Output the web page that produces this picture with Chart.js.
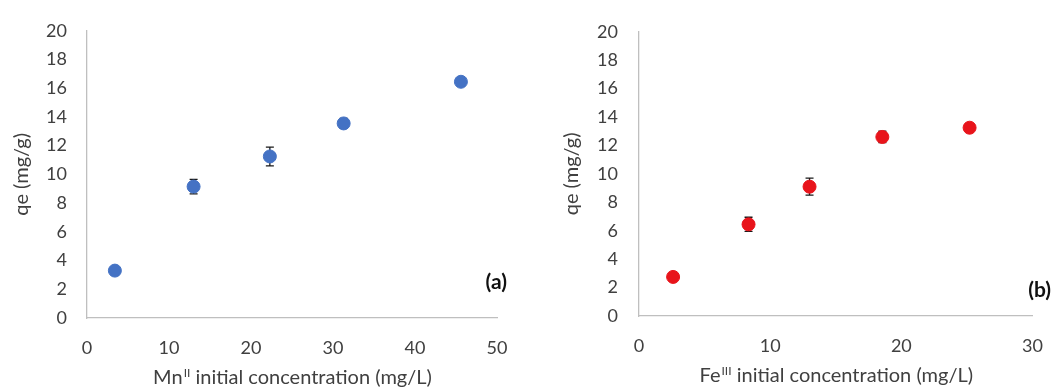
<!DOCTYPE html>
<html>
<head>
<meta charset="utf-8">
<script src="https://cdn.jsdelivr.net/npm/chart.js@4.4.1/dist/chart.umd.min.js"></script>
<style>
  html, body { margin: 0; padding: 0; background: #fff; }
  #wrap { position: relative; width: 1062px; height: 387px; }
  #chartA { position: absolute; left: 0; top: 0; }
  #chartB { position: absolute; left: 530px; top: 0; }
</style>
</head>
<body>
<div id="wrap">
  <canvas id="chartA" width="530" height="387"></canvas>
  <canvas id="chartB" width="532" height="387"></canvas>
</div>
<script>
// panel (a): Mn(II)
const mnConc = [3.4, 13.0, 22.3, 31.3, 45.6];
const mnQe = [3.3, 9.15, 11.25, 13.55, 16.45];
const mnErr = [0.15, 0.5, 0.65, 0.35, 0.2];

// panel (b): Fe(III)
const feConc = [2.6, 8.35, 13.0, 18.55, 25.2];
const feQe = [2.75, 6.45, 9.1, 12.6, 13.25];
const feErr = [0.2, 0.5, 0.6, 0.4, 0.1];

const yTicks = [0, 2, 4, 6, 8, 10, 12, 14, 16, 18, 20];
const xTicksA = [0, 10, 20, 30, 40, 50];
const xTicksB = [0, 10, 20, 30];

const FONT = "Lato, 'Open Sans', sans-serif";
const TEXT = "#404040";
const AXIS = "#bfbfbf";

// vertical error bars drawn from the y scale
const errorBars = {
  id: "errorBars",
  beforeDatasetsDraw(chart, args, opts) {
    const ctx = chart.ctx;
    const xs = chart.scales.x, ys = chart.scales.y;
    const ds = chart.data.datasets[0];
    ctx.save();
    ctx.strokeStyle = "#1a1a1a";
    ctx.lineWidth = 1.3;
    ds.data.forEach((p, i) => {
      const e = opts.err[i];
      const px = xs.getPixelForValue(p.x);
      const top = ys.getPixelForValue(p.y + e);
      const bot = ys.getPixelForValue(p.y - e);
      ctx.beginPath();
      ctx.moveTo(px, top); ctx.lineTo(px, bot);
      ctx.moveTo(px - 4, top); ctx.lineTo(px + 4, top);
      ctx.moveTo(px - 4, bot); ctx.lineTo(px + 4, bot);
      ctx.stroke();
    });
    ctx.restore();
  }
};

// x title with superscript + panel tag
const decorations = {
  id: "decorations",
  afterDraw(chart, args, opts) {
    const ctx = chart.ctx;
    const area = chart.chartArea;
    ctx.save();
    ctx.fillStyle = TEXT;
    ctx.textBaseline = "alphabetic";
    const big = "20px " + FONT, small = "12px " + FONT;
    ctx.font = big;
    const w1 = ctx.measureText(opts.base).width;
    const w3 = ctx.measureText(opts.rest).width;
    ctx.font = small;
    const w2 = ctx.measureText(opts.sup).width;
    const total = w1 + w2 + w3;
    let x = (area.left + area.right) / 2 - total / 2;
    const y = opts.titleY;
    ctx.textAlign = "left";
    ctx.font = big;
    ctx.fillText(opts.base, x, y);
    x += w1 + 1;
    ctx.font = small;
    ctx.fillText(opts.sup, x, y - 7);
    x += w2;
    ctx.font = big;
    ctx.fillText(opts.rest, x, y);

    ctx.font = "bold 21px " + FONT;
    ctx.fillStyle = "#111";
    ctx.textAlign = "right";
    ctx.textBaseline = "middle";
    ctx.fillText(opts.tag, opts.tagX, opts.tagY);
    ctx.restore();
  }
};

function makeChart(id, xs, ys, err, color, xTicks, xMax, layout, deco) {
  const ctx = document.getElementById(id).getContext("2d");
  return new Chart(ctx, {
    type: "scatter",
    data: {
      datasets: [{
        data: xs.map((v, i) => ({ x: v, y: ys[i] })),
        backgroundColor: color,
        borderColor: color,
        pointRadius: 6.5,
        pointHoverRadius: 6.5,
        showLine: false
      }]
    },
    options: {
      responsive: false,
      animation: false,
      layout: { padding: { top: layout.top, right: layout.right, left: 0, bottom: 0 } },
      plugins: {
        legend: { display: false },
        tooltip: { enabled: false },
        errorBars: { err: err },
        decorations: deco
      },
      scales: {
        x: {
          type: "linear",
          min: 0,
          max: xMax,
          afterFit: s => { s.height = layout.xh; },
          afterBuildTicks: s => { s.ticks = xTicks.map(v => ({ value: v })); },
          grid: { display: false, drawTicks: false },
          border: { display: true, color: AXIS, width: 1.3 },
          ticks: { color: TEXT, font: { family: FONT, size: 18 }, padding: layout.xpad, maxRotation: 0 }
        },
        y: {
          min: 0,
          max: 20,
          afterFit: s => { s.width = layout.yw; },
          afterBuildTicks: s => { s.ticks = yTicks.map(v => ({ value: v })); },
          grid: { display: false, drawTicks: false },
          border: { display: true, color: AXIS, width: 1.3 },
          ticks: { color: TEXT, font: { family: FONT, size: 18 }, padding: layout.ypad },
          title: {
            display: true,
            text: "qe (mg/g)",
            color: TEXT,
            font: { family: FONT, size: 20 },
            padding: { top: layout.ytitle, bottom: 0 }
          }
        }
      }
    },
    plugins: [errorBars, decorations]
  });
}

makeChart("chartA", mnConc, mnQe, mnErr, "#4472c4", xTicksA, 50,
  { top: 23, right: 33, xh: 69, yw: 87, xpad: 19, ypad: 20, ytitle: 10 },
  { base: "Mn", sup: "II", rest: " initial concentration (mg/L)", titleY: 384, tag: "(a)", tagX: 507, tagY: 282 });

makeChart("chartB", feConc, feQe, feErr, "#e8141b", xTicksB, 30,
  { top: 22, right: 19, xh: 71, yw: 109, xpad: 19, ypad: 21, ytitle: 30 },
  { base: "Fe", sup: "III", rest: " initial concentration (mg/L)", titleY: 382, tag: "(b)", tagX: 521, tagY: 290 });
</script>
</body>
</html>
